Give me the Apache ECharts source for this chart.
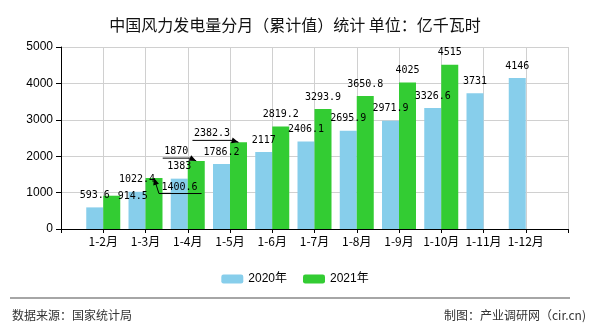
<!DOCTYPE html>
<html><head><meta charset="utf-8">
<script src="https://cdn.jsdelivr.net/npm/echarts@6/dist/echarts.min.js"></script>
<style>html,body{margin:0;padding:0;background:#fff}#c{width:590px;height:330px}</style>
</head><body><div id="c"></div>
<script>
const categories = ['1-2月','1-3月','1-4月','1-5月','1-6月','1-7月','1-8月','1-9月','1-10月','1-11月','1-12月'];
const values2020 = [593.6, 1022.4, 1383, 1786.2, 2117, 2406.1, 2695.9, 2971.9, 3326.6, 3731, 4146];
const values2021 = [914.5, 1400.6, 1870, 2382.3, 2819.2, 3293.9, 3650.8, 4025, 4515];
const yTicks = [0, 1000, 2000, 3000, 4000, 5000];

// crowded 2021 labels: label-centre offset from bar top (px) and leader-line style
const moved2021 = {
  '1-2月': {dx: 21, dy: 1, line: 'none'},
  '1-3月': {dx: 25.5, dy: 9, line: 'right'},
  '1-4月': {dx: -20, dy: -9.3, line: 'left'},
  '1-5月': {dx: -26.5, dy: -8.4, line: 'left'}
};

const BAR_W = 17;
const LABEL_FONT = '10px "DejaVu Sans Mono"';
const axisCats = [''].concat(categories, ['']);
function pad(arr){ const out = ['-']; for (let i=0;i<categories.length;i++) out.push(i<arr.length?arr[i]:'-'); out.push('-'); return out; }
const d2020 = pad(values2020);
const d2021 = pad(values2021).map((v, i) => {
  if (moved2021[axisCats[i]] && v !== '-') return {value: v, label: {show: false}};
  return v;
});
const movedData = [];
values2021.forEach((v, i) => { if (moved2021[categories[i]]) movedData.push([i + 1, v]); });

const mctx = document.createElement('canvas').getContext('2d');
mctx.font = LABEL_FONT;

function renderMoved(params, api) {
  const idx = api.value(0), v = api.value(1);
  const m = moved2021[axisCats[idx]];
  const p = api.coord([idx, v]);
  const top = [p[0] + BAR_W / 2, p[1]];
  const txt = String(v);
  const w = mctx.measureText(txt).width;
  const cx = top[0] + m.dx, cy = top[1] + m.dy;
  const children = [{
    type: 'text', x: cx, y: cy,
    style: {text: txt, font: LABEL_FONT, fill: '#000', align: 'center', verticalAlign: 'middle'}
  }];
  const under = cy + 6.5, xl = cx - w / 2 - 1.5, xr = cx + w / 2 + 2;
  let pts = null, from = null;
  if (m.line === 'left') { pts = [[xl, under], [xr, under], top]; from = [xr, under]; }
  else if (m.line === 'right') { pts = [[xr + 2, under], [xl - 1, under], top]; from = [xl - 1, under]; }
  if (pts) {
    children.push({type: 'polyline', shape: {points: pts}, style: {stroke: '#000', lineWidth: 1, fill: null}});
    const ang = Math.atan2(top[1] - from[1], top[0] - from[0]);
    const L = 7, H = 3;
    const bx = top[0] - L * Math.cos(ang), by = top[1] - L * Math.sin(ang);
    children.push({type: 'polygon', shape: {points: [
      top,
      [bx + H * Math.sin(ang), by - H * Math.cos(ang)],
      [bx - H * Math.sin(ang), by + H * Math.cos(ang)]
    ]}, style: {fill: '#000'}});
  }
  return {type: 'group', children: children};
}

const chart = echarts.init(document.getElementById('c'), null, {renderer: 'canvas'});
const labelStyle = {show: true, position: 'top', distance: 7, fontFamily: 'DejaVu Sans Mono', fontSize: 10, color: '#000'};
chart.setOption({
  animation: false,
  backgroundColor: '#fff',
  title: {
    text: '中国风力发电量分月（累计值）统计 单位：亿千瓦时',
    left: 'center', top: 12,
    textStyle: {fontFamily: 'Noto Sans CJK SC', fontSize: 16, fontWeight: 'normal', color: '#111'}
  },
  legend: {
    top: 268, left: 'center',
    itemWidth: 22, itemHeight: 9, itemGap: 16,
    textStyle: {fontFamily: 'Liberation Sans, Noto Sans CJK SC', fontSize: 12, color: '#000'},
    data: ['2020年', '2021年']
  },
  grid: {left: 61, right: 22, top: 47, bottom: 101, containLabel: false},
  xAxis: {
    type: 'category', data: axisCats, boundaryGap: false,
    axisLine: {lineStyle: {color: '#000'}},
    axisTick: {show: true, length: 4, lineStyle: {color: '#000'}, interval: 0},
    axisLabel: {interval: 0, fontFamily: 'Noto Sans CJK SC', fontSize: 12, color: '#000', margin: 6},
    splitLine: {show: true, interval: 0, lineStyle: {color: '#d0d0d0'}}
  },
  yAxis: {
    type: 'value', min: yTicks[0], max: yTicks[yTicks.length-1], interval: yTicks[1]-yTicks[0],
    axisLine: {show: true, lineStyle: {color: '#000'}},
    axisTick: {show: true, length: 5, lineStyle: {color: '#000'}},
    axisLabel: {fontFamily: 'Liberation Sans', fontSize: 12, color: '#000', margin: 8, formatter: v => String(v)},
    splitLine: {show: true, lineStyle: {color: '#d0d0d0'}}
  },
  series: [
    {name: '2020年', type: 'bar', data: d2020, barWidth: BAR_W, barGap: '0%',
     itemStyle: {color: '#87CEEB'}, label: labelStyle},
    {name: '2021年', type: 'bar', data: d2021, barWidth: BAR_W, barGap: '0%',
     itemStyle: {color: '#33CC33'}, label: labelStyle},
    {name: 'moved', type: 'custom', data: movedData, renderItem: renderMoved, silent: true, z: 10,
     encode: {x: 0, y: 1}}
  ],
  graphic: [
    {type: 'line', shape: {x1: 10, y1: 298, x2: 570, y2: 298}, style: {stroke: '#888', lineWidth: 1.5}},
    {type: 'text', left: 12, top: 309, style: {text: '数据来源：国家统计局', font: '12px "Noto Sans CJK SC"', fill: '#333'}},
    {type: 'text', right: 4, top: 309, style: {text: '制图：产业调研网（cir.cn)', font: '12px "Noto Sans CJK SC"', fill: '#333'}}
  ]
});
</script>
</body></html>
